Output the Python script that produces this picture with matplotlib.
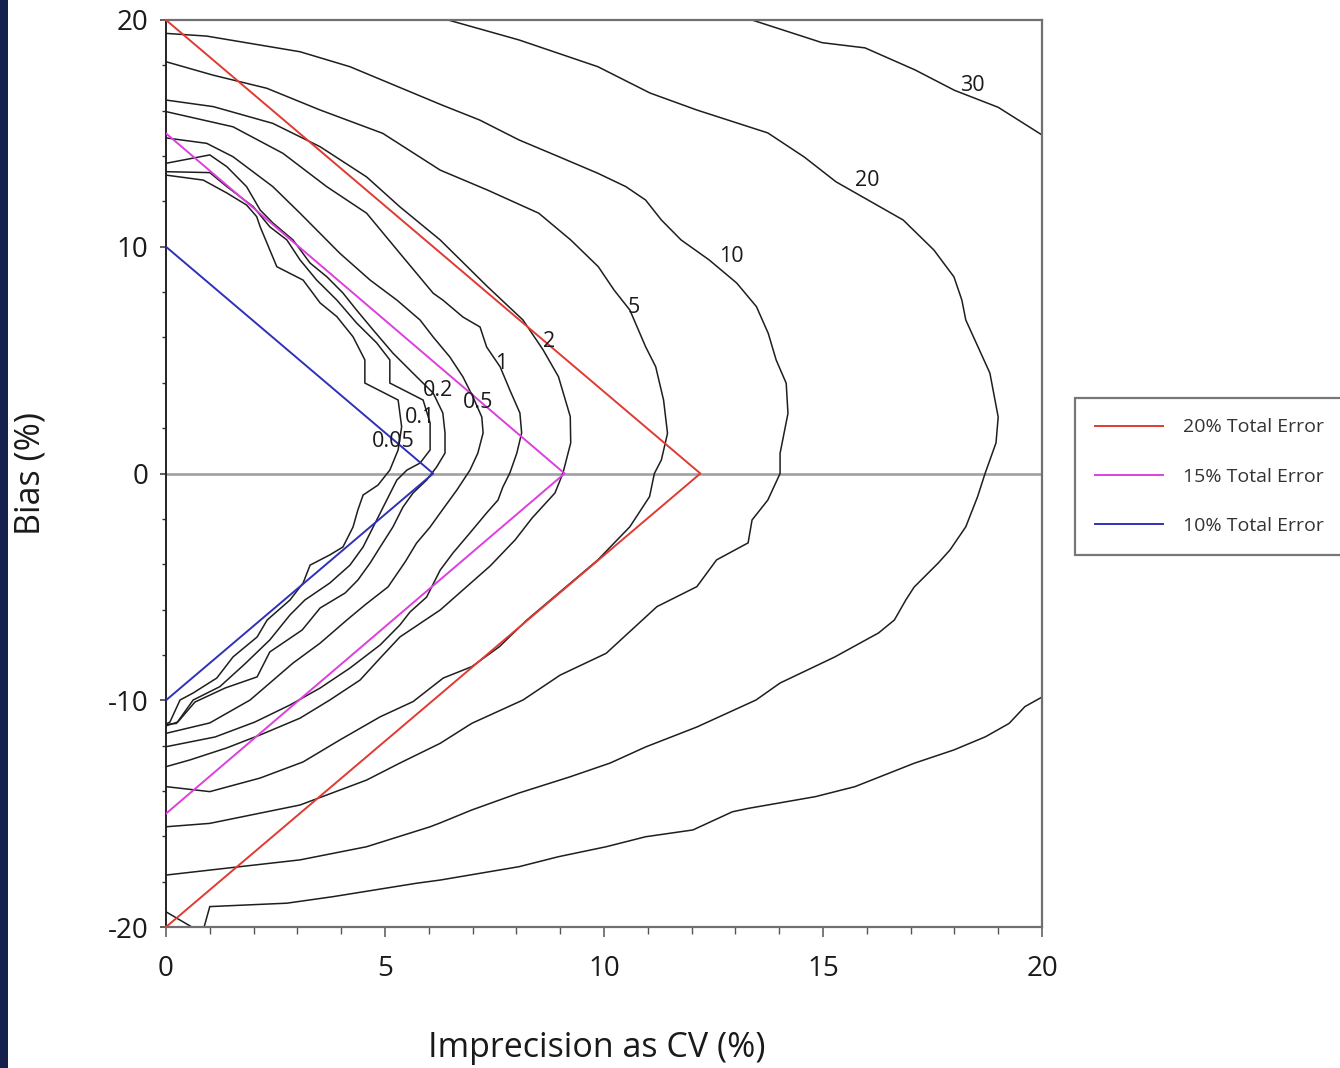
import matplotlib
matplotlib.use("Agg")
import matplotlib.pyplot as plt
from matplotlib.ticker import MultipleLocator, FixedLocator
from matplotlib.patches import Rectangle

plt.rcParams['font.family'] = ['Open Sans', 'DejaVu Sans']
plt.rcParams['axes.unicode_minus'] = False

# ---------------- data ----------------
# total-error limits: (bias at CV=0, CV at bias=0)
te_labels = ["20% Total Error", "15% Total Error", "10% Total Error"]
te_bias = [20, 15, 10]
te_cv = [12.2, 9.1, 6.1]

# iso-probability contours (CV %, Bias %)
cv_005 = [0, 0.85, 1.39, 1.84, 2.07, 2.15, 2.53, 3.13, 3.52, 3.9, 4.27, 4.54, 4.54, 5.3, 5.38,
          5.3, 5.11, 4.84, 4.5, 4.38, 4.27, 4.04, 3.74, 3.29, 3.13, 2.83, 2.31, 2.08, 1.53, 1.16,
          0.62, 0.32, 0.09, 0]
bias_005 = [13.16, 12.94, 12.37, 11.84, 11.33, 10.88, 9.12, 8.53, 7.52, 6.92, 6.03, 5.01, 3.99, 3.24, 2.06,
            1.04, 0.15, -0.51, -0.95, -1.61, -2.36, -3.24, -3.59, -4.04, -4.83, -5.58, -6.46, -7.21, -8.09, -9.02,
            -9.68, -9.99, -10.96, -11.05]

cv_01 = [0, 1.0, 1.39, 1.99, 2.37, 2.76, 3.06, 3.44, 3.9, 4.35, 4.81, 5.11, 5.11, 5.87, 6.03, 6.03,
         5.8, 5.5, 5.27, 5.04, 4.73, 4.5, 4.2, 3.74, 3.17, 2.83, 2.37, 1.8, 1.23, 0.62, 0.24, 0]
bias_01 = [13.31, 13.27, 12.65, 11.77, 10.88, 10.3, 9.42, 8.53, 7.65, 6.64, 5.76, 5.01, 3.99, 3.24, 2.23, 1.04,
           0.46, 0.15, -0.29, -1.17, -2.36, -3.24, -4.04, -4.83, -5.58, -6.24, -7.34, -8.4, -9.4, -9.99, -11.02, -11.07]

cv_02 = [0, 1.0, 1.39, 1.84, 2.15, 2.44, 2.9, 3.29, 3.67, 4.04, 4.35, 4.73, 5.18, 5.72, 6.1, 6.32, 6.37, 6.37,
         6.18, 5.95, 5.64, 5.41, 5.18, 4.89, 4.66, 4.38, 4.09, 3.52, 3.11, 2.37, 2.08, 1.35, 0.66, 0.27, 0]
bias_02 = [13.68, 14.05, 13.53, 12.65, 11.62, 11.05, 10.3, 9.28, 8.68, 7.96, 7.21, 6.33, 5.31, 4.27, 3.55, 2.67, 1.79, 0.9,
           0.29, -0.29, -0.86, -1.48, -2.36, -3.24, -3.95, -4.7, -5.27, -5.93, -6.9, -7.87, -8.97, -9.46, -10.08, -10.96, -11.13]

cv_05 = [0, 0.93, 1.53, 2.44, 3.06, 3.97, 4.66, 5.27, 5.8, 6.1, 6.48, 6.78, 7.01, 7.21, 7.24, 7.12, 6.94,
         6.64, 6.26, 6.03, 5.72, 5.46, 5.07, 4.54, 4.13, 3.52, 2.9, 1.92, 1.0, 0]
bias_05 = [14.8, 14.56, 13.97, 12.65, 11.48, 9.71, 8.53, 7.65, 6.77, 6.02, 5.14, 4.26, 3.37, 2.49, 1.79, 0.9, 0.15,
           -0.73, -1.74, -2.36, -3.07, -3.9, -5.0, -5.8, -6.46, -7.48, -8.36, -9.99, -11.0, -11.46]

cv_1 = [0, 1.53, 2.67, 3.67, 4.58, 5.34, 6.1, 6.32, 6.78, 7.17, 7.32, 7.63, 7.85, 8.08, 8.12, 8.01, 7.85,
        7.69, 7.58, 7.32, 6.94, 6.55, 6.26, 5.95, 5.57, 5.34, 4.89, 4.2, 3.52, 2.83, 2.03, 1.12, 0]
bias_1 = [15.96, 15.29, 14.12, 12.65, 11.48, 9.71, 7.95, 7.65, 6.9, 6.46, 5.58, 4.7, 3.68, 2.67, 1.79, 0.9, 0.02,
          -0.6, -1.17, -1.74, -2.62, -3.51, -4.26, -5.45, -6.11, -6.68, -7.56, -8.58, -9.46, -10.21, -10.96, -11.62, -12.05]

cv_2 = [0, 1.08, 2.44, 3.52, 4.58, 5.34, 6.26, 7.34, 8.15, 8.61, 8.96, 9.23, 9.24, 9.06,
        8.88, 8.36, 7.97, 7.4, 6.83, 6.26, 5.34, 4.89, 4.43, 3.74, 3.06, 2.15, 1.39, 0.55, 0]
bias_2 = [16.47, 16.18, 15.44, 14.41, 13.08, 11.76, 10.3, 8.24, 6.77, 5.45, 4.27, 2.51, 1.35, 0.0,
          -0.86, -1.96, -2.93, -4.08, -5.05, -6.02, -7.21, -8.14, -9.11, -9.99, -10.79, -11.53, -12.1, -12.63, -12.93]

cv_5 = [0, 1.07, 2.3, 3.52, 4.95, 6.26, 7.34, 8.51, 9.24, 9.87, 10.23, 10.59, 10.95, 11.18, 11.36, 11.45, 11.31,
        11.15, 11.04, 10.59, 9.86, 8.96, 8.24, 7.61, 6.98, 6.33, 5.64, 4.89, 3.97, 3.13, 2.15, 1.0, 0]
bias_5 = [18.16, 17.57, 16.99, 16.03, 15.0, 13.38, 12.5, 11.48, 10.3, 9.12, 8.09, 7.21, 5.59, 4.71, 3.24, 1.77, 0.6,
          0.0, -1.02, -2.35, -3.81, -5.28, -6.46, -7.64, -8.52, -9.02, -10.06, -10.73, -11.75, -12.72, -13.43, -14.03, -13.81]

cv_10 = [0, 0.93, 3.06, 4.2, 6.3, 7.16, 8.06, 8.97, 9.86, 10.5, 10.95, 11.31, 11.76, 12.4, 13.03, 13.48, 13.75,
         13.93, 14.16, 14.2, 14.11, 14.02, 14.02, 13.74, 13.38, 13.29, 12.57, 12.12, 11.21, 10.05, 9.0, 8.15,
         6.98, 6.26, 5.34, 4.58, 3.06, 1.0, 0]
bias_10 = [19.41, 19.29, 18.6, 17.94, 16.25, 15.59, 14.71, 13.97, 13.24, 12.65, 12.06, 11.18, 10.3, 9.42, 8.4, 7.36, 6.18,
           5.01, 3.98, 2.65, 1.77, 0.89, 0.0, -1.17, -2.05, -3.06, -3.81, -4.99, -5.87, -7.93, -8.89, -9.99,
           -11.02, -11.9, -12.77, -13.52, -14.62, -15.43, -15.58]

cv_20 = [6.44, 8.06, 9.86, 11.05, 12.12, 13.74, 14.57, 15.3, 16.83, 17.53, 17.99, 18.17, 18.26, 18.54, 18.81, 19.0,
         18.95, 18.7, 18.53, 18.26, 17.9, 17.63, 17.08, 16.89, 16.63, 16.27, 15.27, 14.02, 13.47, 12.12, 10.95,
         10.14, 9.22, 8.06, 6.98, 6.26, 6.03, 4.58, 3.06, 1.0, 0]
bias_20 = [20.0, 19.12, 17.94, 16.78, 16.03, 15.02, 13.96, 12.86, 11.18, 9.86, 8.67, 7.65, 6.77, 5.58, 4.43, 2.49,
           1.35, 0.0, -1.02, -2.35, -3.37, -3.95, -5.01, -5.58, -6.46, -7.03, -8.09, -9.24, -9.99, -11.18, -12.06,
           -12.77, -13.38, -14.09, -14.84, -15.41, -15.58, -16.46, -17.04, -17.49, -17.71]

cv_30_top = [13.38, 14.98, 15.96, 17.1, 18.0, 19.0, 20.0]
bias_30_top = [20.0, 19.0, 18.77, 17.8, 16.9, 16.15, 14.93]
cv_30_low = [20.0, 19.61, 19.25, 18.71, 17.99, 17.08, 15.73, 14.83, 13.29, 12.93, 12.03, 10.95, 10.05, 8.96,
             8.06, 6.26, 5.72, 3.82, 2.76, 1.0, 0.87]
bias_30_low = [-9.86, -10.28, -11.02, -11.61, -12.19, -12.78, -13.81, -14.25, -14.77, -14.92, -15.72, -16.02,
               -16.46, -16.9, -17.34, -17.93, -18.07, -18.66, -18.95, -19.1, -20.0]
cv_30_corner = [0, 0.59]
bias_30_corner = [-19.33, -20.0]

contours = [
    ("0.05", cv_005, bias_005), ("0.1", cv_01, bias_01), ("0.2", cv_02, bias_02),
    ("0.5", cv_05, bias_05), ("1", cv_1, bias_1), ("2", cv_2, bias_2), ("5", cv_5, bias_5),
    ("10", cv_10, bias_10), ("20", cv_20, bias_20),
    ("30", cv_30_top, bias_30_top), ("30", cv_30_low, bias_30_low), ("30", cv_30_corner, bias_30_corner),
]

# contour label anchor points (CV, Bias)
label_text = ["30", "20", "10", "5", "2", "1", "0.5", "0.2", "0.1", "0.05"]
label_cv = [18.42, 16.0, 12.9, 10.68, 8.74, 7.65, 7.12, 6.21, 5.8, 5.18]
label_bias = [17.13, 12.9, 9.59, 7.34, 5.84, 4.83, 3.15, 3.64, 2.49, 1.43]

x_ticks = [0, 5, 10, 15, 20]
y_ticks = [-20, -10, 0, 10, 20]

# ---------------- figure ----------------
W, H = 1340, 1068
fig = plt.figure(figsize=(W / 100, H / 100), dpi=100)
fig.patch.set_facecolor("white")
fig.patches.append(Rectangle((0, 0), 8 / W, 1, transform=fig.transFigure,
                             facecolor="#15204d", edgecolor="none", zorder=0))

ax = fig.add_axes([166 / W, 141 / H, 876 / W, 907 / H])
ax.set_xlim(0, 20)
ax.set_ylim(-20, 20)

ax.axhline(0, color="#a0a0a0", lw=1.9, zorder=1)

for name, xs, ys in contours:
    ax.plot(xs, ys, color="#1e1e1e", lw=1.1, zorder=2, solid_joinstyle="miter")

te_colors = ["#e03a32", "#dd3fdd", "#3030b8"]
handles = []
for lab, b, c, col in zip(te_labels, te_bias, te_cv, te_colors):
    h, = ax.plot([0, c, 0], [b, 0, -b], color=col, lw=1.4, zorder=3, label=lab)
    handles.append(h)

for t, x, y in zip(label_text, label_cv, label_bias):
    ax.text(x, y, t, ha="center", va="center", fontsize=15.5, color="#1a1a1a", zorder=4)

# axes styling
for side in ["top", "right", "bottom"]:
    ax.spines[side].set_color("#707070")
    ax.spines[side].set_linewidth(1.6)
ax.spines["left"].set_color("#222222")
ax.spines["left"].set_linewidth(1.4)

ax.xaxis.set_major_locator(FixedLocator(x_ticks))
ax.xaxis.set_minor_locator(MultipleLocator(1))
ax.yaxis.set_major_locator(FixedLocator(y_ticks))
ax.yaxis.set_minor_locator(MultipleLocator(2))
ax.tick_params(axis="x", which="major", direction="out", length=7.5, width=1.1, color="#555555",
               labelsize=20, pad=13, labelcolor="#1a1a1a")
ax.tick_params(axis="x", which="minor", direction="out", length=5, width=1.0, color="#555555")
ax.tick_params(axis="y", which="major", direction="out", length=4.5, width=1.1, color="#333333",
               labelsize=20, pad=8, labelcolor="#1a1a1a")
ax.tick_params(axis="y", which="minor", direction="out", length=3, width=1.0, color="#333333")
ax.set_xticklabels([str(v) for v in x_ticks])
ax.set_yticklabels([str(v) for v in y_ticks])

ax.set_xlabel("Imprecision as CV (%)", fontsize=24.5, color="#1a1a1a")
ax.xaxis.set_label_coords((597 - 166) / 876, -(1031 - 927) / 907)
ax.set_ylabel("Bias (%)", fontsize=24.5, color="#1a1a1a")
ax.yaxis.set_label_coords(-(166 - 48) / 876, 0.5)

leg = ax.legend(handles=handles, loc="upper left",
                bbox_to_anchor=(1075 / W, 1 - 398 / H), bbox_transform=fig.transFigure,
                fontsize=14, frameon=True, fancybox=False, borderpad=1.05,
                handlelength=3.5, handletextpad=1.0, labelspacing=1.6, borderaxespad=0)
leg.get_frame().set_edgecolor("#555555")
leg.get_frame().set_linewidth(1.6)
for t in leg.get_texts():
    t.set_color("#333333")

fig.savefig("out.png", dpi=100)
